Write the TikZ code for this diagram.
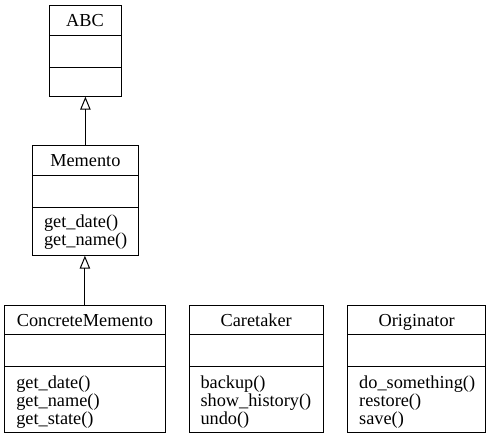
\documentclass[tikz,border=0pt]{standalone}
\usepackage{fontspec}
\setmainfont{Liberation Serif}
\usetikzlibrary{arrows.meta}
\begin{document}
\begin{tikzpicture}[x=1pt,y=1pt,line width=1pt,
  umlbox/.style={draw, inner sep=0pt, outer sep=0pt, anchor=north west},
  lbl/.style={inner sep=0pt, font=\fontsize{18.3}{18}\selectfont},
  inherit/.style={-{Triangle[open,length=13pt,width=10.5pt]}, line width=1pt}]
\useasboundingbox (0,0) rectangle (493,-439);

% ABC
\node[umlbox, minimum width=72pt, minimum height=91.2pt] (abc) at (49,-5.5) {};
\draw (49,-35) -- (121,-35);
\draw (49,-67.7) -- (121,-67.7);
\node[lbl, anchor=base] (abct) at (85,-26.7) {ABC};

% Memento
\node[umlbox, minimum width=105.8pt, minimum height=110pt] (mem) at (32.5,-145.7) {};
\draw (32.5,-175) -- (138.3,-175);
\draw (32.5,-207.7) -- (138.3,-207.7);
\node[lbl, anchor=base] (memt) at (85.4,-166.7) {Memento};
\node[lbl, anchor=base west] (mem1) at (43.5,-227.3) {get\_date()};
\node[lbl, anchor=base west] (mem2) at (43.5,-245.3) {get\_name()};

% ConcreteMemento
\node[umlbox, minimum width=161.2pt, minimum height=127.7pt] (cm) at (4.3,-305) {};
\draw (4.3,-334) -- (165.5,-334);
\draw (4.3,-366) -- (165.5,-366);
\node[lbl, anchor=base] (cmt) at (84.9,-326.7) {ConcreteMemento};
\node[lbl, anchor=base west] (cm1) at (15.8,-388.3) {get\_date()};
\node[lbl, anchor=base west] (cm2) at (15.8,-406.3) {get\_name()};
\node[lbl, anchor=base west] (cm3) at (15.8,-424.3) {get\_state()};

% Caretaker
\node[umlbox, minimum width=134.3pt, minimum height=127.7pt] (ct) at (189,-305) {};
\draw (189,-334) -- (323.3,-334);
\draw (189,-366) -- (323.3,-366);
\node[lbl, anchor=base] (ctt) at (256.2,-326.7) {Caretaker};
\node[lbl, anchor=base west] (ct1) at (200,-388.3) {backup()};
\node[lbl, anchor=base west] (ct2) at (200,-406.3) {show\_history()};
\node[lbl, anchor=base west] (ct3) at (200,-424.3) {undo()};

% Originator
\node[umlbox, minimum width=138pt, minimum height=127.7pt] (or) at (347.7,-305) {};
\draw (347.7,-334) -- (485.7,-334);
\draw (347.7,-366) -- (485.7,-366);
\node[lbl, anchor=base] (ort) at (416.7,-326.7) {Originator};
\node[lbl, anchor=base west] (or1) at (358.7,-388.3) {do\_something()};
\node[lbl, anchor=base west] (or2) at (358.7,-406.3) {restore()};
\node[lbl, anchor=base west] (or3) at (358.7,-424.3) {save()};

% inheritance
\draw[inherit] (mem.north) -- (mem.north |- abc.south);
\draw[inherit] (cm.north) -- (cm.north |- mem.south);
\end{tikzpicture}
\end{document}
